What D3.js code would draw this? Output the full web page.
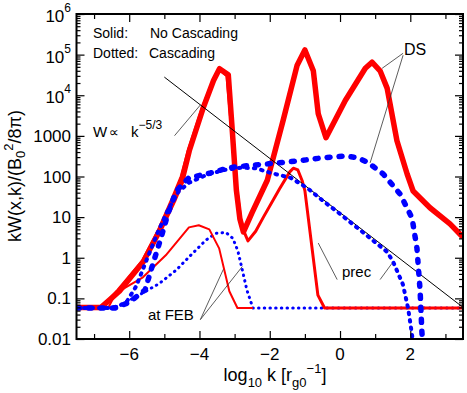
<!DOCTYPE html>
<html>
<head>
<meta charset="utf-8">
<script src="https://cdn.jsdelivr.net/npm/d3@7"></script>
<style>
  body { margin: 0; background: #fff; }
  text { font-family: "Liberation Sans", Arial, Helvetica, sans-serif; fill: #000; }
</style>
</head>
<body>
<div id="chart"></div>
<script>
// solid red, no cascading
const dsK = [-7.5, -6.8, -6.28, -5.6, -5.14, -4.74, -4.5, -4.29, -3.89, -3.6, -3.43, -3.18, -3.08, -2.95, -2.85, -2.75, -2.5, -2.07, -1.62, -1.22, -1.0, -0.76, -0.62, -0.4, 0.15, 0.72, 0.91, 1.14, 1.34, 1.62, 1.91, 2.08, 2.56, 3.13, 3.5];
const dsW = [0.06, 0.06, 0.15, 0.8, 4.5, 25, 78, 430, 5000, 23000, 45000, 32000, 2000, 46, 9, 4.3, 13, 81, 2400, 55000, 130000, 40000, 3500, 900, 7400, 46000, 65000, 40000, 15000, 760, 115, 44, 17, 6.8, 3.2];

const precK = [-7.5, -6.8, -6.32, -5.62, -5.16, -4.77, -4.52, -4.3, -3.9, -3.6, -3.42, -3.22, -3.1, -2.95, -2.8, -2.62, -2.4, -2.18, -1.72, -1.43, -1.33, -1.2, -1.08, -1.0, -0.63, -0.44, 3.5];
const precW = [0.058, 0.058, 0.16, 0.85, 5, 30, 100, 500, 5500, 24000, 42000, 30000, 2000, 60, 6, 2.6, 4.5, 10, 50, 130, 160, 145, 80, 45, 0.12, 0.058, 0.058];

const febK = [-7.5, -6.6, -6.38, -5.61, -4.96, -4.3, -4.02, -3.72, -3.44, -3.15, -2.92, -2.48];
const febW = [0.058, 0.058, 0.135, 0.33, 1.15, 5.6, 6.3, 5, 1.7, 0.15, 0.058, 0.058];

// dotted blue, cascading
const dsCK = [-7.5, -6.4, -6.0, -5.55, -5.35, -5.1, -4.9, -4.66, -4.3, -3.72, -3.15, -2.5, -2.18, -1.22, -0.48, 0.15, 0.5, 0.8, 1.23, 1.71, 2.05, 2.19, 2.28, 2.33, 2.36];
const dsCW = [0.058, 0.058, 0.08, 0.16, 0.6, 3, 12, 44, 93, 120, 165, 190, 200, 240, 290, 320, 290, 220, 115, 37, 9.5, 1.7, 0.15, 0.015, 0.006];

const precCK = [-7.5, -6.5, -6.1, -5.8, -5.5, -5.2, -4.9, -4.6, -4.3, -3.8, -3.3, -2.8, -2.4, -1.98, -1.41, -0.93, -0.48, 0, 0.5, 1.0, 1.34, 1.51, 1.79, 1.94, 2.05, 2.1];
const precCW = [0.058, 0.058, 0.075, 0.2, 0.9, 4, 15, 42, 70, 110, 145, 165, 160, 123, 93, 52, 25, 12, 5.4, 2.4, 1.4, 0.8, 0.22, 0.056, 0.0126, 0.006];

const febCK = [-7.5, -6.45, -5.89, -5.15, -4.67, -4.19, -3.82, -3.53, -3.25, -3.05, -2.91, -2.8, -2.65, -2.48, 3.5];
const febCW = [0.058, 0.058, 0.1, 0.23, 0.49, 1.3, 2.7, 4.0, 4.2, 3.0, 1.5, 0.59, 0.16, 0.058, 0.058];

// W ~ k^-5/3 reference line
const powK = [-5.0, 3.5];
const powW = [28000, 0.06];

const xTicks = [-6, -4, -2, 0, 2];
const xTickLabels = ["\u22126", "\u22124", "\u22122", "0", "2"];
const xMinor = [-7, -5, -3, -1, 1, 3];
const yTicks = [0.01, 0.1, 1, 10, 100, 1000, 1e4, 1e5, 1e6];
const yTickLabels = ["0.01", "0.1", "1", "10", "100", "1000", "10^4", "10^5", "10^6"];

// leader lines [k1, W1, k2, W2]
const leaders = [
  [-4.71, 1010, -3.975, 5750],
  [1.795, 108000, 1.198, 46000],
  [1.795, 96600, 0.857, 217],
  [-0.081, 0.29, -0.62, 2.3],
  [1.14, 0.29, 1.48, 0.73],
  [-3.975, 0.030, -3.32, 0.52],
  [-3.975, 0.030, -2.78, 0.61]
];

const width = 467, height = 393;
const pL = 76.5, pR = 463, pT = 14, pB = 339;

const x = d3.scaleLinear().domain([-7.5, 3.5]).range([pL, pR]);
const y = d3.scaleLog().domain([0.01, 1e6]).range([pB, pT]);

const svg = d3.select("#chart").append("svg")
  .attr("width", width).attr("height", height)
  .style("background", "#fff");

svg.append("clipPath").attr("id", "clip")
  .append("rect").attr("x", pL).attr("y", pT)
  .attr("width", pR - pL).attr("height", pB - pT);

const line = d3.line().x(d => x(d[0])).y(d => y(d[1]));
const plot = svg.append("g").attr("clip-path", "url(#clip)");

function drawSeries(ks, ws, color, w, dash) {
  const p = plot.append("path")
    .datum(d3.zip(ks, ws))
    .attr("d", line)
    .attr("fill", "none")
    .attr("stroke", color)
    .attr("stroke-width", w)
    .attr("stroke-linejoin", "round");
  if (dash) p.attr("stroke-dasharray", dash).attr("stroke-linecap", "round");
}

drawSeries(febCK, febCW, "#0000ff", 3, "0.5,5.2");
drawSeries(febK, febW, "#ff0000", 2);
drawSeries(precK, precW, "#ff0000", 3);
drawSeries(dsK, dsW, "#ff0000", 5.5);
drawSeries(powK, powW, "#000", 1);
drawSeries(precCK, precCW, "#0000ff", 4, "1.5,6");
drawSeries(dsCK, dsCW, "#0000ff", 5.5, "3,9");

// axes, ticks inward
const yMinor = [];
for (let e = -2; e < 6; e++) for (let m = 2; m < 10; m++) yMinor.push(m * Math.pow(10, e));

function axis(gen, tr, vals, size) {
  svg.append("g").attr("transform", tr)
    .call(gen.tickValues(vals).tickSize(-size).tickFormat(""))
    .call(g => g.select(".domain").remove())
    .selectAll("line").attr("stroke-width", 1.2);
}
axis(d3.axisBottom(x), `translate(0,${pB})`, xTicks, 8);
axis(d3.axisBottom(x), `translate(0,${pB})`, xMinor, 5);
axis(d3.axisTop(x), `translate(0,${pT})`, xTicks, 8);
axis(d3.axisTop(x), `translate(0,${pT})`, xMinor, 5);
axis(d3.axisLeft(y), `translate(${pL},0)`, yTicks, 8);
axis(d3.axisLeft(y), `translate(${pL},0)`, yMinor, 4);
axis(d3.axisRight(y), `translate(${pR},0)`, yTicks, 8);
axis(d3.axisRight(y), `translate(${pR},0)`, yMinor, 4);

svg.append("rect").attr("x", pL).attr("y", pT)
  .attr("width", pR - pL).attr("height", pB - pT)
  .attr("fill", "none").attr("stroke", "#000").attr("stroke-width", 2);

// tick labels
svg.append("g").selectAll("text").data(xTicks).join("text")
  .attr("x", d => x(d)).attr("y", 360)
  .attr("text-anchor", "middle").attr("font-size", 17)
  .text((d, i) => xTickLabels[i]);

svg.append("g").selectAll("text").data(yTicks).join("text")
  .attr("x", 71)
  .attr("text-anchor", "end").attr("font-size", 17)
  .each(function(d, i) {
    const lab = yTickLabels[i];
    const t = d3.select(this);
    if (lab.includes("^")) {
      const [b, e] = lab.split("^");
      t.attr("y", y(d) + 8);
      t.append("tspan").text(b);
      t.append("tspan").attr("font-size", 12).attr("dy", -10).text(e);
    } else {
      t.attr("y", y(d) + 6).text(lab);
    }
  });

// axis titles
const xt = svg.append("text").attr("x", 275).attr("y", 381)
  .attr("text-anchor", "middle").attr("font-size", 18);
xt.append("tspan").text("log");
xt.append("tspan").attr("font-size", 13).attr("dy", 6).text("10");
xt.append("tspan").attr("dy", -6).text(" k  [r");
xt.append("tspan").attr("font-size", 13).attr("dy", 6).text("g0");
xt.append("tspan").attr("font-size", 13).attr("dy", -14).text("\u22121");
xt.append("tspan").attr("dy", 8).text("]");

const yt = svg.append("text").attr("transform", "translate(21,176) rotate(-90)")
  .attr("text-anchor", "middle").attr("font-size", 18);
yt.append("tspan").text("kW(x,k)/(B");
yt.append("tspan").attr("font-size", 13).attr("dy", 4).text("0");
yt.append("tspan").attr("font-size", 13).attr("dy", -12).text("2");
yt.append("tspan").attr("dy", 8).text("/8\u03c0)");

// legend
const lg = svg.append("g").attr("font-size", 14);
lg.append("text").attr("x", 93).attr("y", 38).text("Solid:");
lg.append("text").attr("x", 150).attr("y", 38).text("No Cascading");
lg.append("text").attr("x", 93).attr("y", 58).text("Dotted:");
lg.append("text").attr("x", 149).attr("y", 58).text("Cascading");

// annotations
const pw = svg.append("text").attr("x", 93).attr("y", 137).attr("font-size", 15);
pw.append("tspan").text("W");
pw.append("tspan").attr("x", 109).style("font-family", "'DejaVu Sans'").attr("font-size", 14).text("\u221d");
pw.append("tspan").attr("x", 131).text("k");
pw.append("tspan").attr("font-size", 12).attr("dy", -8).text("\u22125/3");

svg.append("text").attr("x", 404).attr("y", 55).attr("font-size", 16).text("DS");
svg.append("text").attr("x", 342).attr("y", 277).attr("font-size", 15).text("prec");
svg.append("text").attr("x", 148).attr("y", 320).attr("font-size", 15).text("at FEB");

svg.append("g").selectAll("line").data(leaders).join("line")
  .attr("x1", d => x(d[0])).attr("y1", d => y(d[1]))
  .attr("x2", d => x(d[2])).attr("y2", d => y(d[3]))
  .attr("stroke", "#333").attr("stroke-width", 0.8);
</script>
</body>
</html>
